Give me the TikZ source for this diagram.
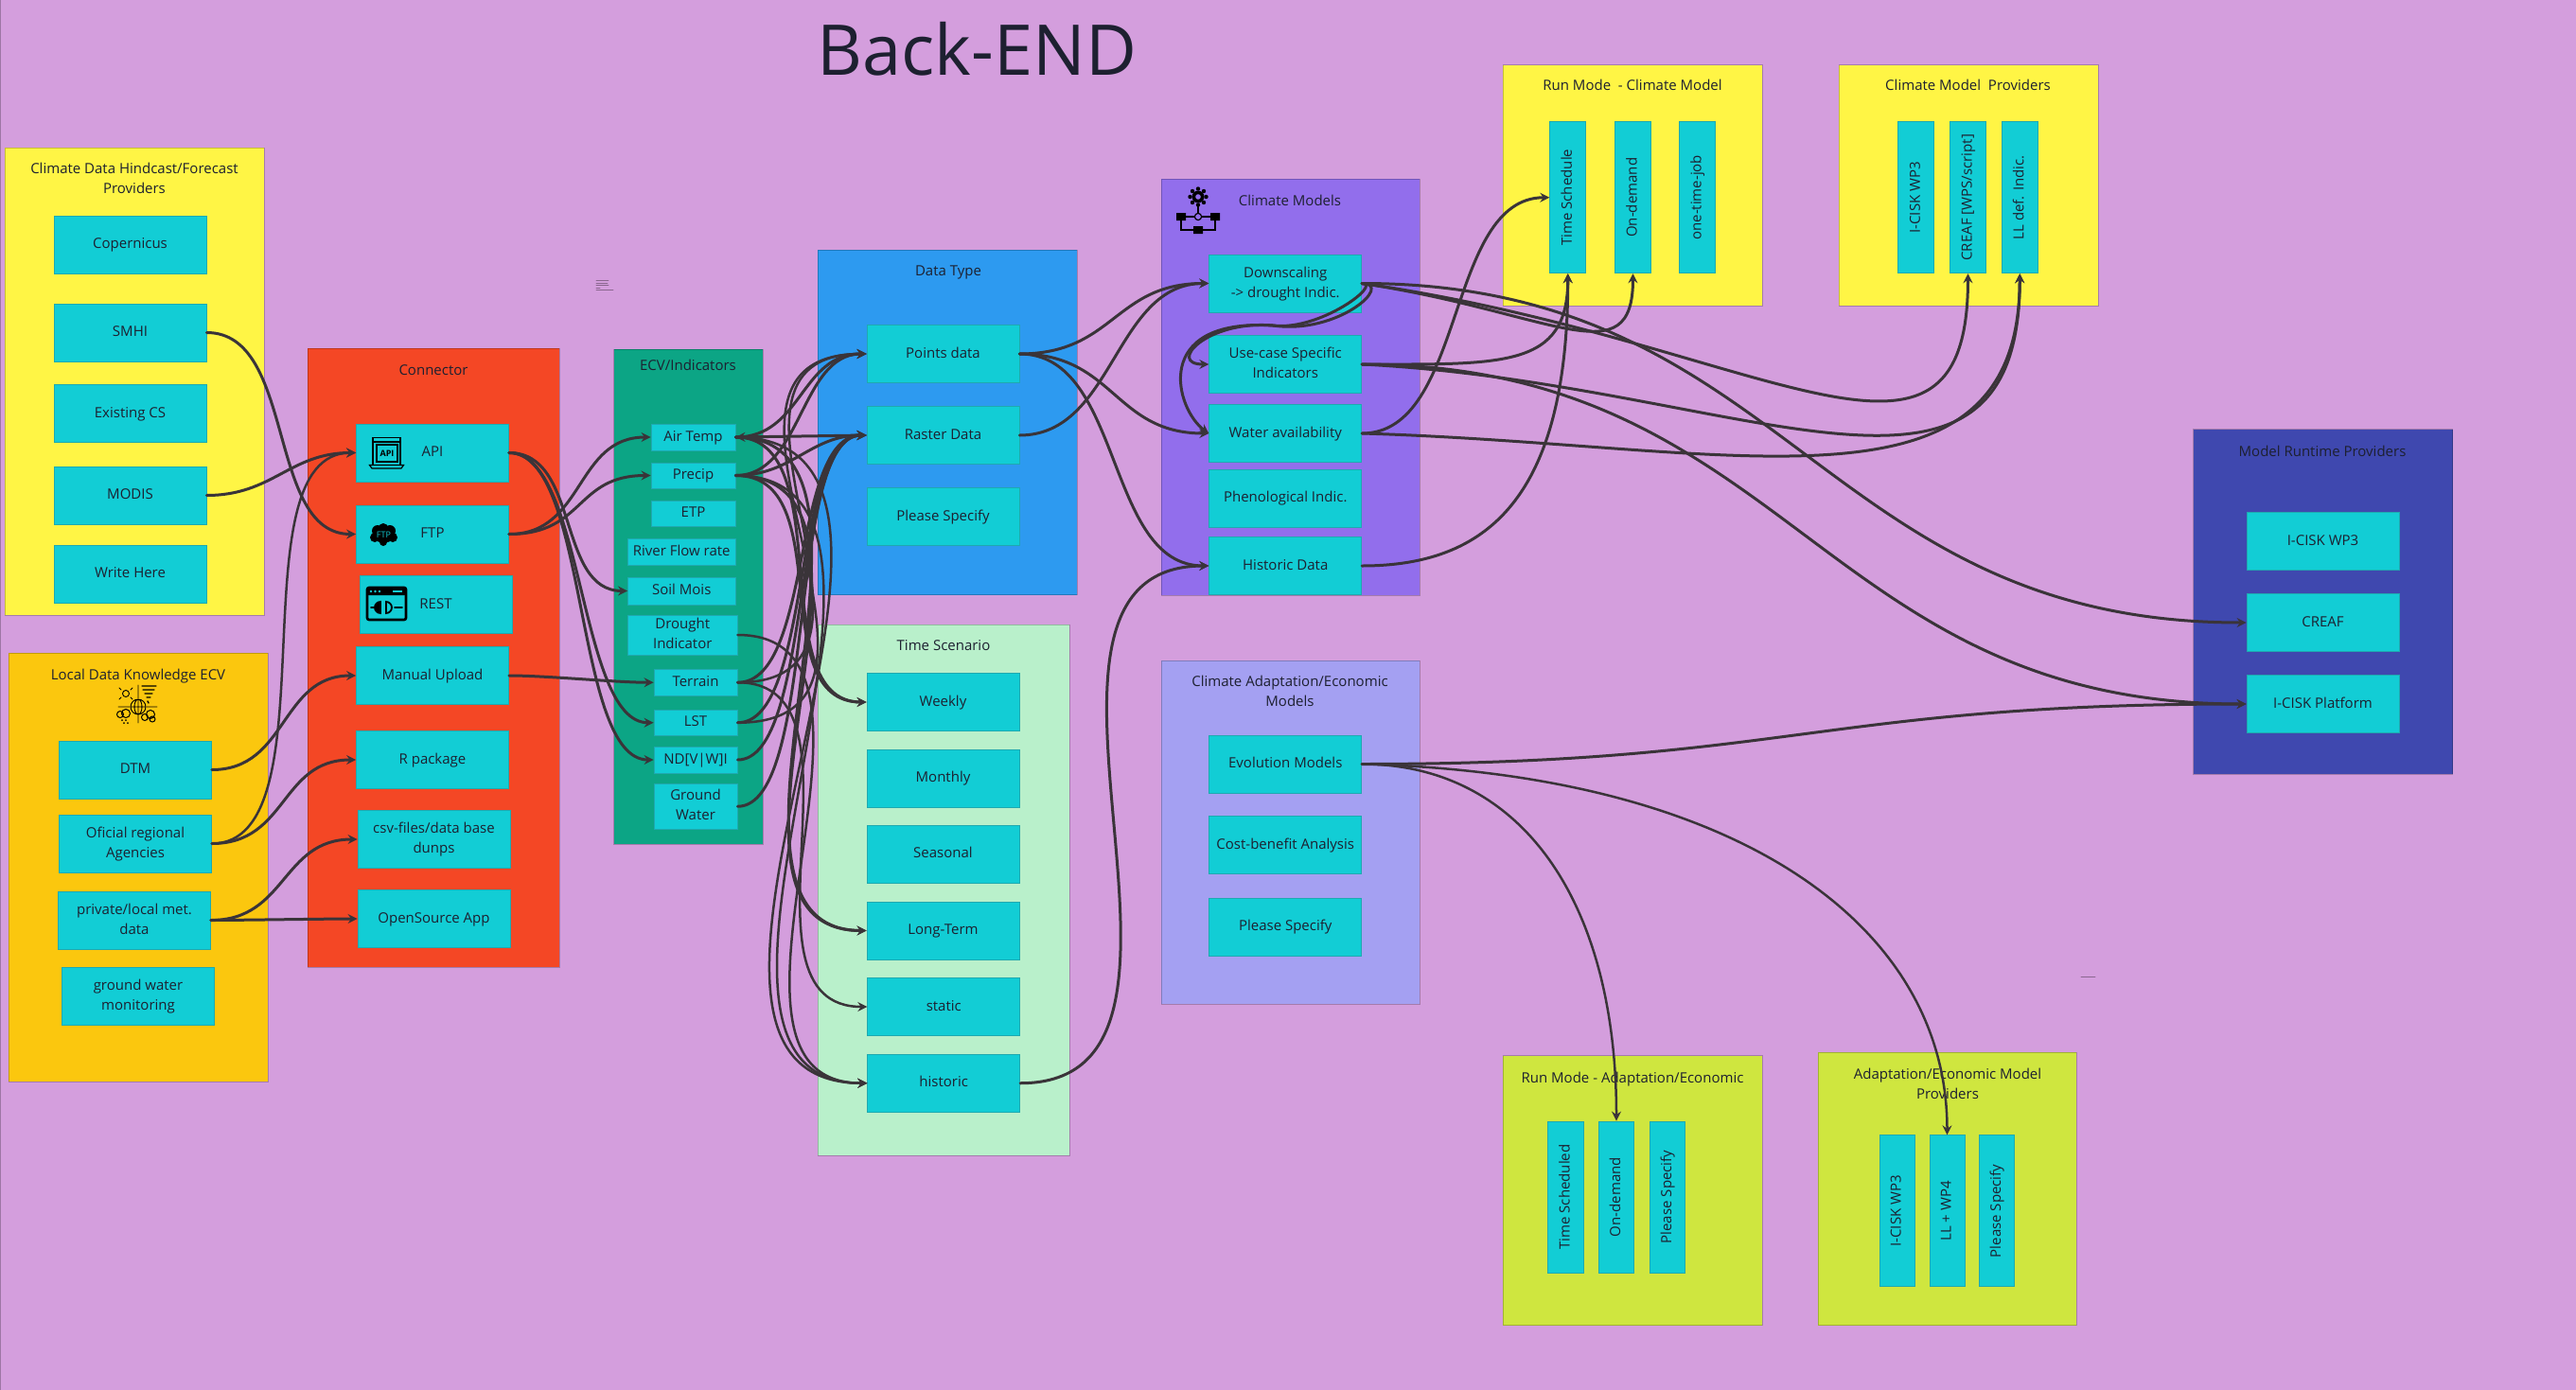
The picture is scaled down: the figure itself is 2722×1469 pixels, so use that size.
\documentclass[tikz,border=0pt]{standalone}
\usepackage{fontspec}
\usepackage{graphicx}
\setmainfont{Open Sans}
\usetikzlibrary{arrows.meta}
\definecolor{bgviolet}{HTML}{D49EDD}
\definecolor{tilecyan}{HTML}{12CDD5}
\definecolor{tileedge}{HTML}{1FA9B0}
\definecolor{inkdark}{HTML}{1D2030}
\definecolor{wireink}{HTML}{3A3439}
\definecolor{pyellow}{HTML}{FFF545}
\definecolor{pamber}{HTML}{FBC70E}
\definecolor{pred}{HTML}{F44725}
\definecolor{pgreen}{HTML}{0CA585}
\definecolor{pblue}{HTML}{2D9AF0}
\definecolor{pmint}{HTML}{B9F0CB}
\definecolor{ppurple}{HTML}{926EEC}
\definecolor{plilac}{HTML}{A4A0F2}
\definecolor{pindigo}{HTML}{3F48AF}
\definecolor{plime}{HTML}{CFE63F}
\newcommand{\vlabel}[1]{\rotatebox{90}{\strut #1}}
\newcommand{\twolines}[2]{\strut #1\\#2\strut}
\tikzset{
  panel/.style={draw=black,draw opacity=.22,line width=1pt,inner sep=0pt},
  tile/.style={draw=tileedge,line width=.9pt,fill=tilecyan,inner sep=0pt,align=center,minimum width=161pt,minimum height=61pt},
  chip/.style={tile,minimum width=89pt,minimum height=28pt},
  bar/.style={tile,minimum width=38pt,minimum height=160pt},
  heading/.style={align=center,inner sep=0pt},
  wire/.style={draw=wireink,line width=3pt,->},
  thinwire/.style={wire,line width=2.5pt},
  hump/.style={to path={.. controls +(#1,0) and +(-#1,0) .. (\tikztotarget)}},
  icon/.style={draw=black,line width=1.2pt}
}
\begin{document}
\begin{tikzpicture}[x=1pt,y=-1pt,>={Stealth[length=10pt,width=10pt,inset=3.5pt]},line cap=round,text=inkdark,font=\fontsize{15}{21}\selectfont]
\useasboundingbox (0,0) rectangle (2722,1469);
\fill[bgviolet] (0,0) rectangle (2722,1469);
\draw[black,opacity=.25,line width=1pt] (.8,0)--(.8,1469);
\node[inner sep=0pt,font=\fontsize{74}{80}\selectfont] (backend) at (1032,52) {Back-END};
\draw[black,opacity=.35,line width=.7pt] (630,296)--(643,296) (630,299)--(642,299) (630,301)--(643,301) (630,304)--(634,304) (630,306)--(648,306) (2199,1032)--(2214,1032);

\node[panel,fill=pyellow,minimum width=274pt,minimum height=494pt] (pclimatedata) at (142,403) {};
\node[heading] (tclimatedata) at (142,189.5) {\twolines{Climate Data Hindcast/Forecast}{Providers}};
\node[tile] (copernicus) at (137.5,258.5) {\strut Copernicus};
\node[tile] (smhi) at (137.5,351.5) {\strut SMHI};
\node[tile] (existing) at (137.5,437) {\strut Existing CS};
\node[tile] (modis) at (137.5,523.5) {\strut MODIS};
\node[tile] (writehere) at (137.5,606.5) {\strut Write Here};

\node[panel,fill=pamber,minimum width=274pt,minimum height=453pt] (plocal) at (146,916.5) {};
\node[heading] (tlocal) at (146,714) {\strut Local Data Knowledge ECV};
\node[tile] (dtm) at (143,813.5) {\strut DTM};
\node[tile] (oficial) at (143,891.5) {\twolines{Oficial regional}{Agencies}};
\node[tile] (private) at (142,972.5) {\twolines{private/local met.}{data}};
\node[tile] (groundmon) at (146,1052.5) {\twolines{ground water}{monitoring}};

\node[panel,fill=pred,minimum width=266pt,minimum height=654pt] (pconnector) at (458,695) {};
\node[heading] (tconnector) at (458,392) {\strut Connector};
\node[tile] (api) at (457,478.5) {\strut API};
\node[tile] (ftp) at (457,564.5) {\strut FTP};
\node[tile] (rest) at (460.5,639) {\strut REST};
\node[tile] (manual) at (457,714) {\strut Manual Upload};
\node[tile] (rpack) at (457,803) {\strut R package};
\node[tile] (csv) at (458.5,887) {\twolines{csv-files/data base}{dunps}};
\node[tile] (opensource) at (458.5,971) {\strut OpenSource App};

\node[panel,fill=pgreen,minimum width=157.5pt,minimum height=523pt] (pecv) at (727.25,630.5) {};
\node[heading] (tecv) at (727,387) {\strut ECV/Indicators};
\node[chip] (airtemp) at (732.5,462) {\strut Air Temp};
\node[chip,minimum height=27pt] (precip) at (732.5,502.5) {\strut Precip};
\node[chip,minimum height=27pt] (etp) at (732.5,542.5) {\strut ETP};
\node[chip,minimum width=113.5pt] (riverflow) at (720.25,583) {\strut River Flow rate};
\node[chip,minimum width=113.5pt,minimum height=29pt] (soilmois) at (720.25,624.5) {\strut Soil Mois};
\node[chip,minimum width=115.5pt,minimum height=42pt] (drought) at (721.25,671) {\twolines{Drought}{Indicator}};
\node[chip,minimum width=88pt,minimum height=27.5pt] (terrain) at (735,721.25) {\strut Terrain};
\node[chip,minimum width=88pt,minimum height=27.5pt] (lst) at (735,763.75) {\strut LST};
\node[chip,minimum width=88pt] (ndvi) at (735,803) {\strut ND[V|W]I};
\node[chip,minimum width=88pt,minimum height=47.5pt] (groundwater) at (735,852.25) {\twolines{Ground}{Water}};

\node[panel,fill=pblue,minimum width=274pt,minimum height=364.6pt] (pdatatype) at (1001,446.3) {};
\node[heading] (tdatatype) at (1002,287) {\strut Data Type};
\node[tile] (points) at (996.5,374) {\strut Points data};
\node[tile] (raster) at (996.5,460) {\strut Raster Data};
\node[tile] (specifydata) at (996.5,546) {\strut Please Specify};

\node[panel,fill=pmint,minimum width=266pt,minimum height=561pt] (ptime) at (997,940.5) {};
\node[heading] (ttime) at (997,683) {\strut Time Scenario};
\node[tile] (weekly) at (996.5,742) {\strut Weekly};
\node[tile] (monthly) at (996.5,822.5) {\strut Monthly};
\node[tile] (seasonal) at (996.5,902.75) {\strut Seasonal};
\node[tile] (longterm) at (996.5,983.5) {\strut Long-Term};
\node[tile] (static) at (997.25,1064) {\strut static};
\node[tile] (historic) at (997.25,1144.75) {\strut historic};

\node[panel,fill=ppurple,minimum width=273pt,minimum height=440pt] (pclimatemodels) at (1363.5,409) {};
\node[heading] (tclimatemodels) at (1363,213) {\strut Climate Models};
\node[tile] (downscaling) at (1358.25,299.5) {\twolines{Downscaling}{-> drought Indic.}};
\node[tile] (usecase) at (1358.25,385) {\twolines{Use-case Specific}{Indicators}};
\node[tile] (water) at (1358.25,458) {\strut Water availability};
\node[tile] (pheno) at (1358.25,526.5) {\strut Phenological Indic.};
\node[tile] (historicdata) at (1358.25,598) {\strut Historic Data};

\node[panel,fill=plilac,minimum width=273pt,minimum height=363pt] (padaptation) at (1363.5,879.5) {};
\node[heading] (tadaptation) at (1363,732) {\twolines{Climate Adaptation/Economic}{Models}};
\node[tile] (evolution) at (1358.25,807.5) {\strut Evolution Models};
\node[tile] (costbenefit) at (1358.25,893) {\strut Cost-benefit Analysis};
\node[tile] (specifyadapt) at (1358.25,979.5) {\strut Please Specify};

\node[panel,fill=pyellow,minimum width=274pt,minimum height=254pt] (prunclimate) at (1725,196) {};
\node[heading] (trunclimate) at (1725,91) {\strut Run Mode\ \ - Climate Model};
\node[bar] (timeschedule) at (1656.75,208.75) {\vlabel{Time Schedule}};
\node[bar] (ondemand) at (1725.5,208.75) {\vlabel{On-demand}};
\node[bar] (onetime) at (1793.5,208.75) {\vlabel{one-time-job}};

\node[panel,fill=pyellow,minimum width=274pt,minimum height=254pt] (pproviders) at (2080,196) {};
\node[heading] (tproviders) at (2079.5,91) {\strut Climate Model\ \ Providers};
\node[bar] (ciskclimate) at (2024.75,208.75) {\vlabel{I-CISK WP3}};
\node[bar] (creafwps) at (2079.5,208.75) {\vlabel{CREAF [WPS/script]}};
\node[bar] (lldef) at (2134.25,208.75) {\vlabel{LL def. Indic.}};

\node[panel,fill=pindigo,minimum width=274pt,minimum height=364.3pt] (pruntime) at (2454.6,635.85) {};
\node[heading] (truntime) at (2454,478) {\strut Model Runtime Providers};
\node[tile] (ciskruntime) at (2454.5,572) {\strut I-CISK WP3};
\node[tile] (creaf) at (2454.5,658) {\strut CREAF};
\node[tile] (platform) at (2454.5,744) {\strut I-CISK Platform};

\node[panel,fill=plime,minimum width=274pt,minimum height=285pt] (prunadapt) at (1725,1258) {};
\node[heading] (trunadapt) at (1725,1140) {\strut Run Mode - Adaptation/Economic};
\node[bar,minimum width=37.5pt] (timesched) at (1654.3,1265) {\vlabel{Time Scheduled}};
\node[bar,minimum width=37.5pt] (ondemandadapt) at (1708,1265) {\vlabel{On-demand}};
\node[bar,minimum width=37.5pt] (specifyrun) at (1762,1265) {\vlabel{Please Specify}};

\node[panel,fill=plime,minimum width=273pt,minimum height=288.6pt] (pprovadapt) at (2057.5,1256.3) {};
\node[heading] (tprovadapt) at (2058,1146.5) {\twolines{Adaptation/Economic Model}{Providers}};
\node[bar,minimum width=37pt] (ciskadapt) at (2004.5,1279.8) {\vlabel{I-CISK WP3}};
\node[bar,minimum width=37pt] (llwp) at (2057.5,1279.8) {\vlabel{LL + WP4}};
\node[bar,minimum width=37pt] (specifyprov) at (2110,1279.8) {\vlabel{Please Specify}};

\draw[icon] (394,462.5) rectangle (423,491.5) (394,467)--(423,467) (398,470)rectangle(420,488);
\draw[icon] (390.5,491.5)--(426.5,491.5)--(424,495)--(393,495)--cycle;
\node[inner sep=0pt,font=\fontsize{9}{9}\selectfont\bfseries,text=black] (apiglyph) at (409,479) {API};
\fill[black] (405.5,565.5) circle (12pt and 8pt) (399,561) circle (6pt) (412,561) circle (6pt) (405,558) circle (5pt) (396,568) circle (5pt) (415,568) circle (5pt) (405,573) circle (4pt);
\node[inner sep=0pt,font=\fontsize{9}{9}\selectfont,text=tilecyan] (ftpglyph) at (405.5,565) {FTP};
\draw[black,line width=2.6pt,rounded corners=2pt] (388,621) rectangle (429,655);
\fill[black,rounded corners=1.5pt] (388,621) rectangle (429,629);
\fill[tilecyan] (392,625) circle (1.4pt) (396.5,625) circle (1.4pt) (401,625) circle (1.4pt);
\fill[tilecyan] (415,624) rectangle (425,626);
\draw[black,line width=1.8pt] (392,642)--(396,642) (417,642)--(425,642) (402,648) arc (90:270:6) -- cycle (408,648) arc (90:-90:6) -- cycle;
\fill[black] (402,648) arc (90:270:6) -- cycle;
\draw[icon,line width=.9pt] (133,733) circle (3.5pt) (146,724)--(146,738) (146,754)--(146,764) (125,747)--(137,747) (155,747)--(166,747);
\draw[icon,line width=.9pt] (126,727)--(128,729) (140,727)--(138,729) (126,739)--(128,737) (140,739)--(138,737);
\draw[icon,line width=1.4pt] (150,725)--(165,725) (151,729)--(163,729) (153,733)--(161,733) (155,737)--(159,737) (156,741)--(157,743);
\draw[icon,line width=.9pt] (146,747) circle (8pt) (138,747)--(154,747) (146,739)--(146,755) (146,755) arc (90:270:4 and 8) (146,755) arc (90:-90:4 and 8);
\draw[icon,line width=1pt,fill=pamber] (127,755) circle (3.5pt) (133,754) circle (4.5pt) (153,758) circle (3.5pt) (159,755) circle (4.5pt) (161,760) circle (3pt);
\fill[black] (129,761) circle (1pt) (133,761) circle (1pt) (131,764) circle (1pt) (135,764) circle (1pt);
\fill[black] (1266,208) circle (6.5pt);
\foreach \ang in {0,45,...,315} \fill[black] (1266,208)++(\ang:8.5) circle (2.2pt);
\fill[ppurple] (1266,208) circle (2.8pt);
\draw[icon,line width=1.5pt] (1266,216)--(1266,225) (1248,229)--(1262,229) (1270,229)--(1284,229) (1248,229)--(1248,243)--(1284,243)--(1284,229);
\draw[icon,line width=1.2pt,fill=ppurple] (1266,229) circle (3.6pt);
\fill[black] (1243,225) rectangle (1253,233) (1279,225) rectangle (1289,233) (1261,239) rectangle (1271,247);

\draw[wire] (smhi.east) to[hump=95] (ftp.west);
\draw[wire] (modis.east) to[hump=70] (api.west);
\draw[wire] (dtm.east) to[hump=80] (manual.west);
\draw[wire] (oficial.east) to[hump=80] (rpack.west);
\draw[thinwire] (oficial.east) to[hump=130] (api.west);
\draw[wire] (private.east) to[hump=80] (csv.west);
\draw[wire] (private.east) to[hump=30] (opensource.west);

\draw[wire] (api.east) to[hump=75] (soilmois.west);
\draw[wire] (api.east) to[hump=80] (lst.west);
\draw[wire] (api.east) to[hump=85] (ndvi.west);
\draw[wire] (ftp.east) to[hump=80] (airtemp.west);
\draw[wire] (ftp.east) to[hump=80] (precip.west);
\draw[wire] (manual.east) to[hump=40] (terrain.west);

\draw[wire] (airtemp.east) to[hump=70] (points.west);
\draw[wire,<->] (airtemp.east) -- (raster.west);
\draw[wire] (precip.east) to[hump=70] (points.west);
\draw[wire] (precip.east) to[hump=60] (raster.west);
\draw[thinwire] (terrain.east) to[hump=200] (points.west);
\draw[thinwire] (lst.east) to[hump=220] (points.west);
\draw[wire] (terrain.east) to[hump=80] (raster.west);
\draw[wire] (lst.east) to[hump=80] (raster.west);
\draw[wire] (ndvi.east) to[hump=80] (raster.west);
\draw[wire] (groundwater.east) to[hump=85] (raster.west);

\draw[wire] (airtemp.east) to[hump=110] (weekly.west);
\draw[wire] (precip.east) to[hump=110] (weekly.west);
\draw[wire] (airtemp.east) to[hump=200] (longterm.west);
\draw[wire] (precip.east) to[hump=200] (longterm.west);
\draw[thinwire] (terrain.east) to[hump=150] (static.west);
\draw[thinwire] (airtemp.east) to[hump=280] (historic.west);
\draw[thinwire] (precip.east) to[hump=250] (historic.west);
\draw[thinwire] (drought.east) to[hump=200] (historic.west);

\draw[wire] (points.east) to[hump=100] (downscaling.west);
\draw[wire] (points.east) to[hump=100] (water.west);
\draw[wire] (points.east) to[hump=110] (historicdata.west);
\draw[wire] (raster.east) to[hump=100] (downscaling.west);
\draw[wire] (historic.east) to[hump=245] (historicdata.west);
\coordinate (loopmid) at (1345,344);
\draw[wire] (downscaling.east) .. controls +(34,0) and +(70,10) .. (loopmid) .. controls +(-70,-6) and +(-45,0) .. (usecase.west);
\draw[wire] (downscaling.east) .. controls +(22,0) and +(50,6) .. (loopmid) .. controls +(-130,-8) and +(-35,-25) .. (water.west);

\draw[wire] (water.east) to[hump=110] (timeschedule.west);
\draw[wire] (usecase.east) .. controls +(150,0) and +(0,100) .. (timeschedule.south);
\draw[wire] (historicdata.east) .. controls +(130,0) and +(0,240) .. (timeschedule.south);
\draw[wire] (downscaling.east) .. controls +(200,30) and +(0,110) .. (ondemand.south);
\draw[wire] (downscaling.east) .. controls +(420,60) and +(0,260) .. (creafwps.south);
\draw[wire] (usecase.east) .. controls +(400,20) and +(0,300) .. (lldef.south);
\draw[wire] (water.east) .. controls +(400,12) and +(0,270) .. (lldef.south);
\draw[wire] (downscaling.east) to[hump=450] (creaf.west);
\draw[wire] (usecase.east) to[hump=450] (platform.west);
\draw[wire] (evolution.east) to[hump=450] (platform.west);
\draw[thinwire] (evolution.east) .. controls +(170,0) and +(0,-230) .. (ondemandadapt.north);
\draw[thinwire] (evolution.east) .. controls +(400,10) and +(0,-220) .. (llwp.north);
\end{tikzpicture}
\end{document}
